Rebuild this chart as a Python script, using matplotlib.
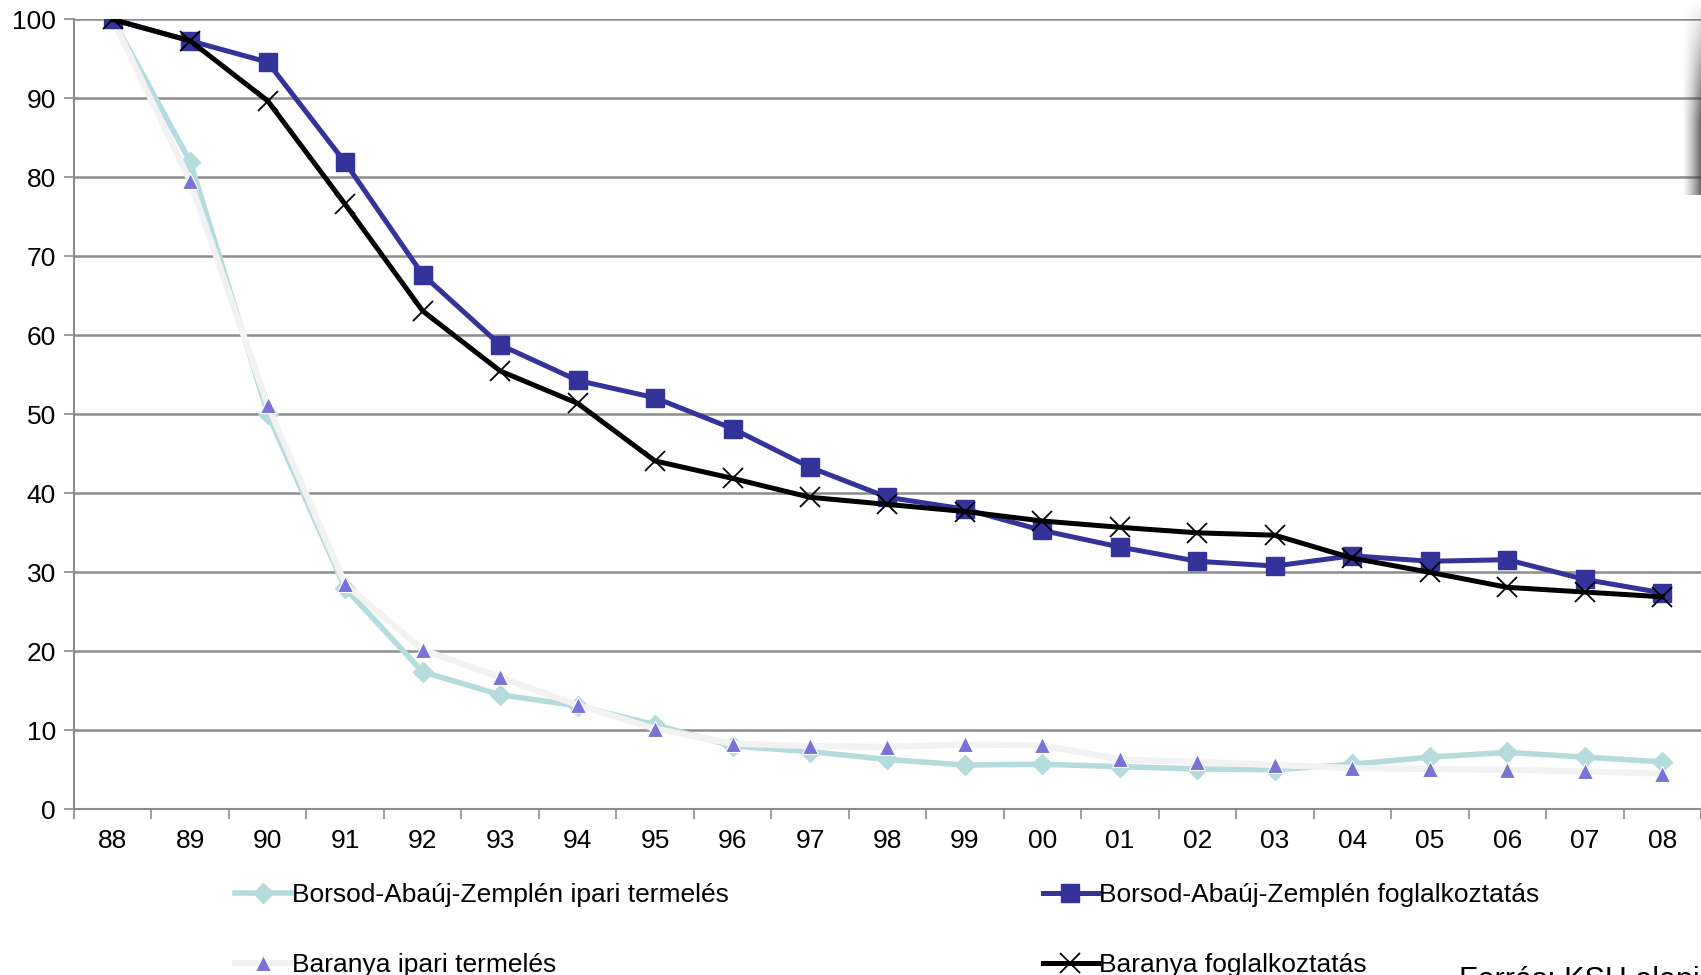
import matplotlib
matplotlib.use("Agg")
import matplotlib.pyplot as plt
import numpy as np

years = ["88", "89", "90", "91", "92", "93", "94", "95", "96", "97", "98",
         "99", "00", "01", "02", "03", "04", "05", "06", "07", "08"]

baz_ipari = [100, 82, 50.1, 28, 17.4, 14.5, 13.1, 10.7, 8.0, 7.3, 6.3,
             5.6, 5.7, 5.4, 5.1, 5.0, 5.7, 6.6, 7.2, 6.6, 6.0]
baranya_ipari = [100, 79.5, 51.2, 28.5, 20.2, 16.7, 13.2, 10.2, 8.3, 8.0, 7.9,
                 8.2, 8.1, 6.3, 6.0, 5.6, 5.2, 5.1, 5.0, 4.8, 4.5]
baz_fogl = [100, 97.3, 94.6, 81.9, 67.7, 58.8, 54.3, 52.1, 48.2, 43.3, 39.5,
            38.0, 35.3, 33.2, 31.4, 30.8, 32.1, 31.4, 31.6, 29.1, 27.4]
baranya_fogl = [100, 97.3, 89.7, 76.6, 63.1, 55.5, 51.4, 44.1, 41.9, 39.5, 38.6,
                37.7, 36.5, 35.7, 35.0, 34.7, 31.8, 30.0, 28.1, 27.5, 26.9]

labels = ["Borsod-Abaúj-Zemplén ipari termelés",
          "Borsod-Abaúj-Zemplén foglalkoztatás",
          "Baranya ipari termelés",
          "Baranya foglalkoztatás"]
yticks = [0, 10, 20, 30, 40, 50, 60, 70, 80, 90, 100]

plt.rcParams['font.family'] = ['Liberation Sans', 'DejaVu Sans']

fig = plt.figure(figsize=(17.01, 9.75), dpi=100)
ax = fig.add_axes([0.0435, 0.170, 0.9565, 0.810])
x = np.arange(len(years))

l1, = ax.plot(x, baz_ipari, color="#b4dcdc", lw=4.0, marker="D", ms=10,
              mec="#b4dcdc", mfc="#b4dcdc", zorder=3)
l3, = ax.plot(x, baranya_ipari, color="#f2f2f2", lw=4.5, marker="^", ms=11,
              mfc="#7a72d4", mec="white", mew=0.8, zorder=4)
l2, = ax.plot(x, baz_fogl, color="#333399", lw=3.6, marker="s", ms=13,
              mfc="#333399", mec="#333399", zorder=5)
l4, = ax.plot(x, baranya_fogl, color="black", lw=3.6, marker="x", ms=14,
              mew=1.3, mec="black", zorder=6)

ax.set_xlim(-0.5, len(years) - 0.5)
ax.set_ylim(0, 100)
ax.set_yticks(yticks)
ax.set_yticklabels([str(v) for v in yticks], fontsize=19)
ax.yaxis.grid(True, color="#8c8c8c", lw=1.8)
ax.set_axisbelow(True)
ax.set_xticks(x)
ax.set_xticklabels(years, fontsize=19)
ax.tick_params(axis="x", length=0, pad=14)
ax.set_xticks(np.arange(-0.5, len(years), 1.0), minor=True)
ax.tick_params(axis="x", which="minor", length=7, width=1.2, color="#8c8c8c")
ax.tick_params(axis="y", length=7, width=1.2, color="#8c8c8c", pad=6)
for s in ["top", "right"]:
    ax.spines[s].set_visible(False)
for s in ["left", "bottom"]:
    ax.spines[s].set_color("#8c8c8c")
    ax.spines[s].set_linewidth(1.5)

# column-major order so rows read: BAZ ipari | BAZ fogl ; Baranya ipari | Baranya fogl
leg = fig.legend(handles=[l1, l3, l2, l4],
                 labels=[labels[0], labels[2], labels[1], labels[3]], ncol=2,
                 loc="upper left", bbox_to_anchor=(0.132, 0.105),
                 frameon=False, fontsize=19, handlelength=2.1,
                 handletextpad=0.05, columnspacing=11.9, labelspacing=1.75,
                 borderaxespad=0)

fig.text(0.858, -0.022, "Forrás: KSH alapján", fontsize=22, ha="left", va="bottom")

# right-edge shadow (fades to the left and downward)
nx, ny = 40, 100
gx = np.linspace(0, 1, nx)[None, :]
gy = np.linspace(1, 0, ny)[:, None]
img = np.zeros((ny, nx, 4))
img[..., :3] = 0.25
img[..., 3] = (gx ** 1.5) * np.clip(gy * 1.6, 0, 1) * 0.85
sax = fig.add_axes([0.988, 0.80, 0.012, 0.20])
sax.imshow(img, aspect="auto", extent=[0, 1, 0, 1], origin="lower")
sax.axis("off")

fig.savefig("out.png", dpi=100)
